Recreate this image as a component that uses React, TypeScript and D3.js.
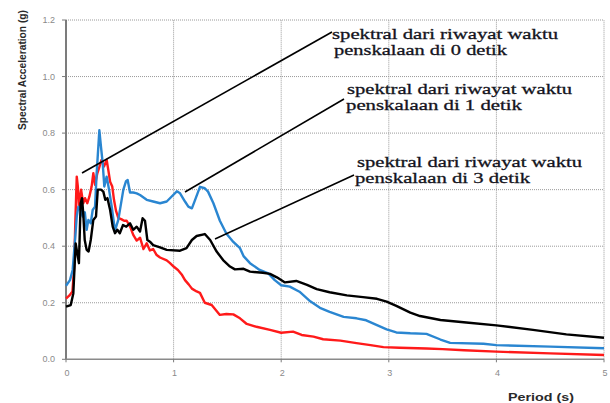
import React from "react";
import * as d3 from "d3";

const xTicks = [0, 1, 2, 3, 4, 5];
const xTickLabels = ["0", "1", "2", "3", "4", "5"];
const yTicks = [0, 0.2, 0.4, 0.6, 0.8, 1.0, 1.2];
const yTickLabels = ["0.0", "0.2", "0.4", "0.6", "0.8", "1.0", "1.2"];

const redT = [0, 0.03, 0.06, 0.075, 0.087, 0.1, 0.11, 0.12, 0.14, 0.16, 0.177, 0.198, 0.217, 0.238, 0.254, 0.27, 0.291, 0.31, 0.33, 0.353, 0.378, 0.393, 0.41, 0.43, 0.446, 0.465, 0.486, 0.517, 0.54, 0.564, 0.595, 0.625, 0.657, 0.688, 0.72, 0.75, 0.78, 0.81, 0.84, 0.874, 0.936, 0.967, 1.0, 1.04, 1.075, 1.106, 1.14, 1.17, 1.214, 1.245, 1.29, 1.354, 1.43, 1.49, 1.555, 1.617, 1.68, 1.77, 1.896, 2.0, 2.11, 2.19, 2.3, 2.39, 2.55, 2.7, 2.83, 2.95, 3.1, 3.35, 3.5, 3.7, 4.0, 4.5, 5.0];
const redSa = [0.215, 0.225, 0.24, 0.32, 0.49, 0.646, 0.611, 0.54, 0.6, 0.552, 0.57, 0.552, 0.575, 0.611, 0.658, 0.617, 0.658, 0.68, 0.705, 0.682, 0.705, 0.67, 0.628, 0.611, 0.564, 0.525, 0.5, 0.495, 0.49, 0.49, 0.47, 0.44, 0.42, 0.43, 0.39, 0.41, 0.385, 0.39, 0.37, 0.36, 0.35, 0.34, 0.328, 0.316, 0.3, 0.28, 0.265, 0.25, 0.24, 0.235, 0.2, 0.192, 0.157, 0.16, 0.159, 0.145, 0.125, 0.115, 0.104, 0.094, 0.098, 0.086, 0.08, 0.071, 0.066, 0.057, 0.05, 0.043, 0.041, 0.038, 0.036, 0.032, 0.027, 0.021, 0.015];

const blueT = [0, 0.037, 0.062, 0.084, 0.1, 0.115, 0.136, 0.155, 0.175, 0.192, 0.208, 0.23, 0.248, 0.27, 0.285, 0.31, 0.325, 0.341, 0.356, 0.378, 0.4, 0.425, 0.455, 0.486, 0.533, 0.558, 0.573, 0.595, 0.625, 0.657, 0.688, 0.75, 0.81, 0.874, 0.936, 0.98, 1.03, 1.06, 1.106, 1.137, 1.17, 1.2, 1.245, 1.29, 1.32, 1.37, 1.43, 1.49, 1.555, 1.617, 1.65, 1.71, 1.8, 1.88, 1.94, 2.0, 2.08, 2.17, 2.27, 2.36, 2.45, 2.58, 2.7, 2.79, 2.89, 2.98, 3.07, 3.2, 3.35, 3.48, 3.57, 3.88, 4.0, 4.5, 5.0];
const blueSa = [0.26, 0.28, 0.316, 0.422, 0.505, 0.54, 0.528, 0.505, 0.52, 0.458, 0.493, 0.481, 0.528, 0.54, 0.658, 0.81, 0.752, 0.694, 0.611, 0.646, 0.6, 0.54, 0.455, 0.493, 0.6, 0.63, 0.634, 0.59, 0.59, 0.587, 0.581, 0.564, 0.558, 0.552, 0.558, 0.575, 0.594, 0.587, 0.558, 0.54, 0.534, 0.564, 0.61, 0.605, 0.593, 0.552, 0.49, 0.445, 0.415, 0.393, 0.365, 0.34, 0.316, 0.304, 0.28, 0.262, 0.257, 0.239, 0.205, 0.182, 0.168, 0.15, 0.145, 0.138, 0.121, 0.106, 0.095, 0.092, 0.09, 0.07, 0.058, 0.055, 0.05, 0.045, 0.039];

const blackT = [0, 0.044, 0.068, 0.09, 0.105, 0.12, 0.136, 0.149, 0.16, 0.174, 0.192, 0.21, 0.23, 0.254, 0.279, 0.295, 0.325, 0.347, 0.365, 0.385, 0.41, 0.434, 0.455, 0.477, 0.5, 0.53, 0.56, 0.595, 0.625, 0.657, 0.688, 0.712, 0.734, 0.756, 0.78, 0.81, 0.874, 0.936, 1.06, 1.12, 1.17, 1.214, 1.29, 1.34, 1.4, 1.46, 1.524, 1.57, 1.65, 1.71, 1.83, 1.896, 1.96, 2.035, 2.14, 2.24, 2.33, 2.45, 2.61, 2.76, 2.89, 2.98, 3.07, 3.2, 3.29, 3.48, 3.72, 4.0, 4.34, 4.65, 5.0];
const blackSa = [0.186, 0.192, 0.233, 0.41, 0.375, 0.34, 0.552, 0.57, 0.517, 0.422, 0.387, 0.381, 0.422, 0.493, 0.505, 0.6, 0.6, 0.593, 0.564, 0.57, 0.528, 0.469, 0.446, 0.458, 0.446, 0.475, 0.469, 0.481, 0.458, 0.469, 0.452, 0.499, 0.49, 0.422, 0.416, 0.404, 0.396, 0.387, 0.384, 0.393, 0.422, 0.436, 0.443, 0.422, 0.381, 0.351, 0.328, 0.318, 0.32, 0.31, 0.306, 0.302, 0.29, 0.272, 0.277, 0.263, 0.248, 0.237, 0.226, 0.22, 0.214, 0.204, 0.189, 0.165, 0.153, 0.139, 0.13, 0.12, 0.104, 0.088, 0.076];

const annLine1 = "spektral dari riwayat waktu";
const annLine2 = ["penskalaan di 0 detik", "penskalaan di 1 detik", "penskalaan di 3 detik"];

export default function App() {
  const x = d3.scaleLinear().domain([0, 5]).range([66, 604]);
  const y = d3.scaleLinear().domain([0, 1.2]).range([359.3, 20]);
  const line = d3
    .line<[number, number]>()
    .x((d) => x(d[0]))
    .y((d) => y(d[1]));

  const series = [
    { t: redT, v: redSa, color: "#ff1a1a" },
    { t: blueT, v: blueSa, color: "#2a86d1" },
    { t: blackT, v: blackSa, color: "#000000" },
  ];

  const anns = [
    { x1: 332, y1: 38.5, x2: 334, y2: 55, w1: 226, w2: 173, lx0: 82, ly0: 173, lx1: 332, ly1: 32 },
    { x1: 347, y1: 94, x2: 346, y2: 110, w1: 225, w2: 176, lx0: 185, ly0: 192, lx1: 344, ly1: 99 },
    { x1: 357, y1: 167, x2: 355, y2: 183, w1: 225, w2: 175, lx0: 215, ly0: 239, lx1: 354, ly1: 175 },
  ];

  return (
    <svg
      width={610}
      height={403}
      style={{ position: "absolute", left: 0, top: 0, background: "#fff" }}
      fontFamily="'Liberation Sans', Arial, sans-serif"
    >
      <rect width={610} height={403} fill="#fff" />
      {/* grid */}
      {yTicks.slice(1).map((t) => (
        <line key={"gy" + t} x1={x(0)} x2={x(5)} y1={y(t)} y2={y(t)} stroke="#9a9a9a" strokeWidth={1} strokeDasharray="1,1" />
      ))}
      {xTicks.slice(1).map((t) => (
        <line key={"gx" + t} x1={x(t)} x2={x(t)} y1={y(0)} y2={y(1.2)} stroke="#9a9a9a" strokeWidth={1} strokeDasharray="1,1" />
      ))}
      {/* axes */}
      <line x1={x(0)} x2={x(0)} y1={y(0)} y2={y(1.2)} stroke="#6e6e6e" strokeWidth={1.8} />
      <line x1={x(0)} x2={x(5)} y1={y(0)} y2={y(0)} stroke="#8a8a8a" strokeWidth={1.6} />
      {yTicks.map((t, i) => (
        <g key={"yt" + t}>
          <line x1={x(0) - 4} x2={x(0)} y1={y(t)} y2={y(t)} stroke="#7a7a7a" strokeWidth={1} />
          <text x={55} y={y(t) + 3} textAnchor="end" fontSize={9} fill="#8a8a8a">
            {yTickLabels[i]}
          </text>
        </g>
      ))}
      {xTicks.map((t, i) => (
        <g key={"xt" + t}>
          <line x1={x(t)} x2={x(t)} y1={y(0)} y2={y(0) + 3} stroke="#7a7a7a" strokeWidth={1} />
          <text x={x(t) + 1} y={376} textAnchor="middle" fontSize={9} fill="#8a8a8a">
            {xTickLabels[i]}
          </text>
        </g>
      ))}
      <text
        transform={`translate(26,70) rotate(-90)`}
        textAnchor="middle"
        fontSize={10.5}
        fontWeight="bold"
        fill="#2a2a2a"
        textLength={120}
        lengthAdjust="spacingAndGlyphs"
      >
        Spectral Acceleration (g)
      </text>
      <text
        x={508}
        y={401}
        fontSize={10.5}
        fontWeight="bold"
        fill="#2a2a2a"
        textLength={66}
        lengthAdjust="spacingAndGlyphs"
      >
        Period (s)
      </text>
      {/* curves */}
      {series.map((s, i) => (
        <path
          key={"s" + i}
          d={line(s.t.map((t, j) => [t, s.v[j]] as [number, number])) || ""}
          fill="none"
          stroke={s.color}
          strokeWidth={2.4}
          strokeLinejoin="round"
        />
      ))}
      {/* annotations */}
      {anns.map((a, i) => (
        <g key={"a" + i}>
          <line x1={a.lx0} y1={a.ly0} x2={a.lx1} y2={a.ly1} stroke="#000" strokeWidth={1.6} />
          <text
            x={a.x1}
            y={a.y1}
            fontFamily="'Liberation Serif', 'Times New Roman', serif"
            fontSize={15.5}
            fill="#141420"
            stroke="#141420"
            strokeWidth={0.3}
            textLength={a.w1}
            lengthAdjust="spacingAndGlyphs"
          >
            {annLine1}
          </text>
          <text
            x={a.x2}
            y={a.y2}
            fontFamily="'Liberation Serif', 'Times New Roman', serif"
            fontSize={15.5}
            fill="#141420"
            stroke="#141420"
            strokeWidth={0.3}
            textLength={a.w2}
            lengthAdjust="spacingAndGlyphs"
          >
            {annLine2[i]}
          </text>
        </g>
      ))}
    </svg>
  );
}
